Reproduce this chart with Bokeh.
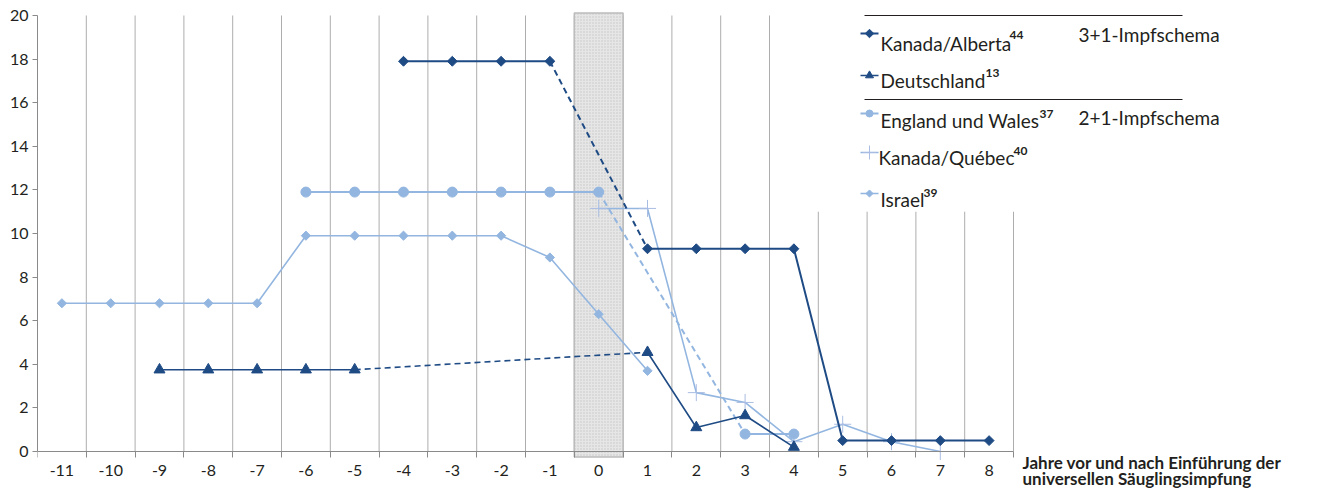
import math
from bokeh.plotting import figure
from bokeh.models import FixedTicker, Range1d
from bokeh.core.properties import value
from bokeh.embed import file_html
from bokeh.resources import INLINE

# ---------------- data ----------------
years = list(range(-11, 9))
tick_labels = [str(y) for y in years]
y_ticks = list(range(0, 21, 2))

alberta = [None] * 7 + [17.9, 17.9, 17.9, 17.9] + [None] + [9.3, 9.3, 9.3, 9.3] + [0.5, 0.5, 0.5, 0.5]
deutschland = [None] * 2 + [3.75] * 5 + [None] * 5 + [4.55, 1.1, 1.65, 0.2] + [None] * 4
england = [None] * 5 + [11.9] * 7 + [None] * 2 + [0.8, 0.8] + [None] * 4
quebec = [None] * 11 + [11.15, 11.15, 2.7, 2.25, 0.45, 1.25, 0.45, 0.0] + [None]
israel = [6.8] * 5 + [9.9] * 5 + [8.9, 6.3, 3.7] + [None] * 7

names = ["Kanada/Alberta", "Deutschland", "England und Wales", "Kanada/Québec", "Israel"]
refs = ["44", "13", "37", "40", "39"]
group_labels = ["3+1-Impfschema", "2+1-Impfschema"]
x_title = ["Jahre vor und nach Einführung der", "universellen Säuglingsimpfung"]

DARK = "#1f4b85"
LIGHT = "#93b6e0"
CROSS = "#a9bde3"
FONT = "Lato"
TXT = "#231f20"

W, H = 1312, 488
LEFT, TOP, BOTTOM = 37, 8, 451      # pixel positions of frame left / top and of y = 0
XSTEP = 48.8
YSTEP = 21.8

# ---------------- figure ----------------
# the frame reaches down to the canvas bottom so that the axis title (below y = 0) is not clipped;
# the x axis is pinned at y = 0 with fixed_location
p = figure(width=W, height=H, output_backend="svg", toolbar_location=None,
           x_range=Range1d(-11.5, -11.5 + (W - LEFT) / XSTEP),
           y_range=Range1d((BOTTOM - H) / YSTEP, (BOTTOM - TOP) / YSTEP),
           min_border_left=LEFT, min_border_right=0, min_border_top=TOP,
           min_border_bottom=0)
p.outline_line_color = None
p.grid.visible = False
p.background_fill_color = "white"

def fx(px):
    return -11.5 + (px - LEFT) / XSTEP

def fy(py):
    return (BOTTOM - py) / YSTEP

# vertical grid lines at category boundaries
bounds_x = [y + 0.5 for y in years]
g_top = [20 if b < 4.5 else 11 for b in bounds_x]
p.segment(x0=bounds_x, y0=[0] * len(bounds_x), x1=bounds_x, y1=g_top,
          line_color="#adadad", line_width=1)

# shaded year of introduction
p.quad(left=[-0.5], right=[0.5], bottom=[-0.25], top=[20.12],
       fill_color="#e6e6e6", hatch_pattern="dot", hatch_color="#c6c6c6",
       hatch_scale=3, hatch_weight=1,
       line_color="#bcbcbc", line_width=1.5)

# ---------------- series ----------------
def runs(xs, ys):
    out, cur = [], []
    for x, y in zip(xs, ys):
        if y is None:
            if cur:
                out.append(cur)
                cur = []
        else:
            cur.append((x, y))
    if cur:
        out.append(cur)
    return out

def draw_series(vals, color, lw, marker, size, angle=0.0, mline=None, fill=True):
    rs = runs(years, vals)
    for r in rs:
        p.line([a for a, _ in r], [b for _, b in r], line_color=color, line_width=lw)
    for r1, r2 in zip(rs[:-1], rs[1:]):
        p.line([r1[-1][0], r2[0][0]], [r1[-1][1], r2[0][1]],
               line_color=color, line_width=lw, line_dash="6 4")
    xs = [x for x, v in zip(years, vals) if v is not None]
    ys = [v for v in vals if v is not None]
    if fill:
        p.scatter(xs, ys, marker=marker, size=size, angle=angle,
                  fill_color=color, line_color=color)
    else:
        p.scatter(xs, ys, marker=marker, size=size, angle=angle,
                  line_color=mline or color, line_width=1)

draw_series(israel, LIGHT, 1.6, "square", 6.5, angle=math.pi / 4)
draw_series(quebec, LIGHT, 1.6, "cross", 17, mline=CROSS, fill=False)
draw_series(england, LIGHT, 2, "circle", 10)
draw_series(deutschland, DARK, 1.6, "triangle", 11)
draw_series(alberta, DARK, 2, "square", 7, angle=math.pi / 4)

# ---------------- legend (hand-made, with superscript references) ----------------
styles = [
    (DARK, 2, "square", 6, math.pi / 4, True),
    (DARK, 1.6, "triangle", 8, 0.0, True),
    (LIGHT, 2, "circle", 7, 0.0, True),
    (LIGHT, 1.6, "cross", 14, 0.0, False),
    (LIGHT, 1.6, "square", 5, math.pi / 4, True),
]
glyph_py = [33, 75, 113, 152, 193]
text_py = [43, 80, 120, 157, 199]
text_px = [880, 880, 880, 878, 880]
sup_px = [1009, 985, 1039, 1013, 923]
sup_py = [34, 72, 113, 150, 192]

for i, (c, lw, mk, sz, ang, fill) in enumerate(styles):
    gy = fy(glyph_py[i])
    p.line([fx(860), fx(878)], [gy, gy], line_color=c, line_width=lw)
    if fill:
        p.scatter([fx(869)], [gy], marker=mk, size=sz, angle=ang, fill_color=c, line_color=c)
    else:
        p.scatter([fx(869)], [gy], marker=mk, size=sz, line_color=CROSS, line_width=1)

p.text(x=[fx(v) for v in text_px], y=[fy(v) for v in text_py], text=names,
       text_font=value(FONT), text_font_size="19px", text_color=TXT,
       text_baseline="alphabetic", text_align="left")
p.text(x=[fx(v) for v in sup_px], y=[fy(v) for v in sup_py], text=refs,
       text_font=value(FONT), text_font_size="12px", text_font_style="bold",
       text_color=TXT, text_baseline="alphabetic", text_align="left")
p.text(x=[fx(1078), fx(1078)], y=[fy(34), fy(117)], text=group_labels,
       text_font=value(FONT), text_font_size="19px", text_color=TXT,
       text_baseline="alphabetic", text_align="left")
p.segment(x0=[fx(864), fx(864)], y0=[fy(15), fy(99)], x1=[fx(1182), fx(1182)],
          y1=[fy(15), fy(99)], line_color=TXT, line_width=1)

# x-axis title at bottom right
p.text(x=[fx(1022), fx(1022)], y=[fy(462), fy(478)], text=x_title,
       text_font=value(FONT), text_font_size="17px", text_font_style="bold",
       text_color=TXT, text_baseline="alphabetic", text_align="left")

# ---------------- axes ----------------
xa = p.xaxis[0]
xa.fixed_location = 0
xa.ticker = FixedTicker(ticks=years, minor_ticks=[years[0] - 0.5] + bounds_x)
xa.bounds = (years[0] - 0.5, years[-1] + 0.5)
xa.major_label_overrides = {y: lab for y, lab in zip(years, tick_labels)}
xa.major_tick_line_color = None
xa.major_tick_out = 0
xa.major_tick_in = 0
xa.minor_tick_line_color = "#8a8a8a"
xa.minor_tick_out = 6
xa.minor_tick_in = 0
xa.axis_line_color = "#8a8a8a"
xa.major_label_standoff = 7
xa.major_label_text_font = FONT
xa.major_label_text_font_size = "16px"
xa.major_label_text_color = TXT

ya = p.yaxis[0]
ya.ticker = FixedTicker(ticks=y_ticks, minor_ticks=[])
ya.bounds = (0, 20)
ya.axis_line_color = "#8a8a8a"
ya.major_tick_line_color = "#8a8a8a"
ya.major_tick_out = 5
ya.major_tick_in = 0
ya.minor_tick_line_color = None
ya.major_label_standoff = 4
ya.major_label_text_font = FONT
ya.major_label_text_font_size = "16px"
ya.major_label_text_color = TXT

open("out.html", "w").write(file_html(p, INLINE))
